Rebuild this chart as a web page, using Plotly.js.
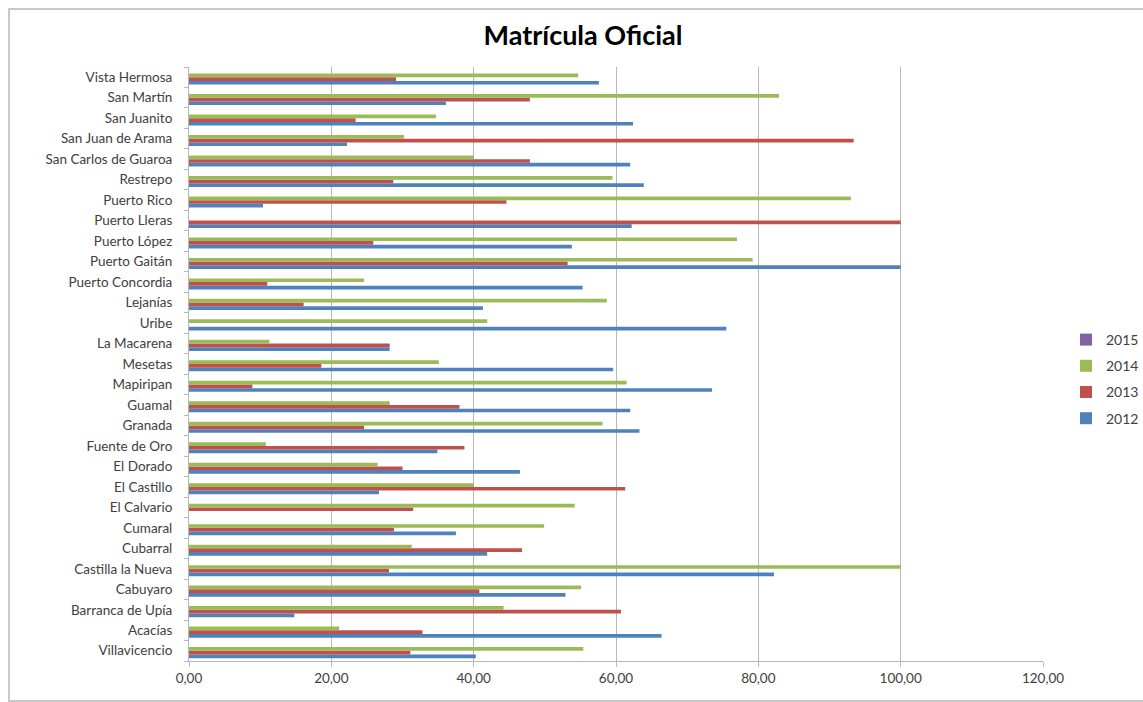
<!DOCTYPE html>
<html>
<head>
<meta charset="utf-8">
<script src="https://cdn.plot.ly/plotly-3.0.1.min.js"></script>
<style>
html,body{margin:0;padding:0;background:#fff;}
#chart{position:absolute;left:0;top:0;width:1143px;height:702px;}
#frame{position:absolute;left:8px;top:8px;width:1160px;height:690px;border:2px solid #c8c8c8;pointer-events:none;}
</style>
</head>
<body>
<div id="chart"></div>
<div id="frame"></div>
<script>
const municipios = ["Villavicencio","Acacías","Barranca de Upía","Cabuyaro","Castilla la Nueva","Cubarral","Cumaral","El Calvario","El Castillo","El Dorado","Fuente de Oro","Granada","Guamal","Mapiripan","Mesetas","La Macarena","Uribe","Lejanías","Puerto Concordia","Puerto Gaitán","Puerto López","Puerto Lleras","Puerto Rico","Restrepo","San Carlos de Guaroa","San Juan de Arama","San Juanito","San Martín","Vista Hermosa"];

const v2012 = [40.3, 66.4, 14.8, 52.9, 82.2, 41.9, 37.5, 0, 26.7, 46.5, 34.9, 63.3, 62.0, 73.5, 59.6, 28.2, 75.5, 41.3, 55.3, 100, 53.8, 62.2, 10.4, 63.9, 62.0, 22.2, 62.4, 36.1, 57.6];
const v2013 = [31.1, 32.8, 60.7, 40.8, 28.1, 46.8, 28.8, 31.5, 61.3, 30.0, 38.7, 24.6, 38.0, 8.9, 18.6, 28.2, 0, 16.1, 11.0, 53.2, 25.9, 100, 44.6, 28.7, 47.9, 93.4, 23.4, 47.9, 29.1];
const v2014 = [55.4, 21.1, 44.2, 55.1, 100, 31.3, 49.9, 54.2, 40.0, 26.5, 10.8, 58.1, 28.2, 61.5, 35.1, 11.3, 41.9, 58.7, 24.6, 79.2, 77.0, 0, 93.0, 59.5, 40.0, 30.2, 34.7, 82.9, 54.7];
const v2015 = [0, 0, 0, 0, 0, 0, 0, 0, 0, 0, 0, 0, 0, 0, 0, 0, 0, 0, 0, 0, 0, 0, 0, 0, 0, 0, 0, 0, 0];

const years = ["2012", "2013", "2014", "2015"];
const series = [v2012, v2013, v2014, v2015];
const colors = ["#4F81BD", "#C0504D", "#9BBB59", "#8064A2"];
const xTicks = [0, 20, 40, 60, 80, 100, 120];
const xTickText = ["0,00", "20,00", "40,00", "60,00", "80,00", "100,00", "120,00"];

const traces = years.map((y, i) => ({
  type: "bar",
  orientation: "h",
  name: y,
  y: municipios,
  x: series[i],
  marker: {color: colors[i], line: {width: 0}},
  legendgroup: "g" + y,
  legendrank: years.length - i,
  hoverinfo: "x+y+name"
}));

const font = "Lato, 'Open Sans', 'DejaVu Sans', sans-serif";

const layout = {
  width: 1143,
  height: 702,
  paper_bgcolor: "#ffffff",
  plot_bgcolor: "#ffffff",
  margin: {l: 189, r: 100, t: 67, b: 41},
  barmode: "group",
  bargap: 0.28,
  bargroupgap: 0,
  title: {
    text: "<b>Matrícula Oficial</b>",
    x: 583 / 1143, xref: "container", xanchor: "center",
    y: 1 - 36 / 702, yref: "container", yanchor: "middle",
    font: {family: font, size: 27, color: "#000000"}
  },
  font: {family: font, size: 13, color: "#404040"},
  xaxis: {
    range: [0, 120],
    tickvals: xTicks,
    ticktext: xTickText,
    showgrid: true,
    gridcolor: "#b8b8b8",
    gridwidth: 1,
    zeroline: false,
    showline: true,
    linecolor: "#b8b8b8",
    linewidth: 1,
    ticks: "outside",
    ticklen: 5,
    tickcolor: "#b8b8b8",
    tickfont: {family: font, size: 13.5, color: "#404040"},
    fixedrange: true
  },
  yaxis: {
    type: "category",
    categoryorder: "array",
    categoryarray: municipios,
    range: [-0.5, municipios.length - 0.5],
    showline: true,
    linecolor: "#b8b8b8",
    linewidth: 1,
    ticks: "outside",
    tickson: "boundaries",
    ticklen: 4,
    tickcolor: "#b8b8b8",
    ticklabelstandoff: 13,
    showgrid: false,
    zeroline: false,
    tickfont: {family: font, size: 13.5, color: "#404040"},
    fixedrange: true
  },
  showlegend: true,
  legend: {
    xref: "container", yref: "container",
    x: 1066 / 1143, xanchor: "left",
    y: 1 - 379 / 702, yanchor: "middle",
    traceorder: "grouped",
    tracegroupgap: 5,
    itemwidth: 30,
    font: {family: font, size: 14, color: "#404040"},
    bgcolor: "rgba(0,0,0,0)"
  }
};

Plotly.newPlot("chart", traces, layout, {displayModeBar: false, staticPlot: true});
</script>
</body>
</html>
